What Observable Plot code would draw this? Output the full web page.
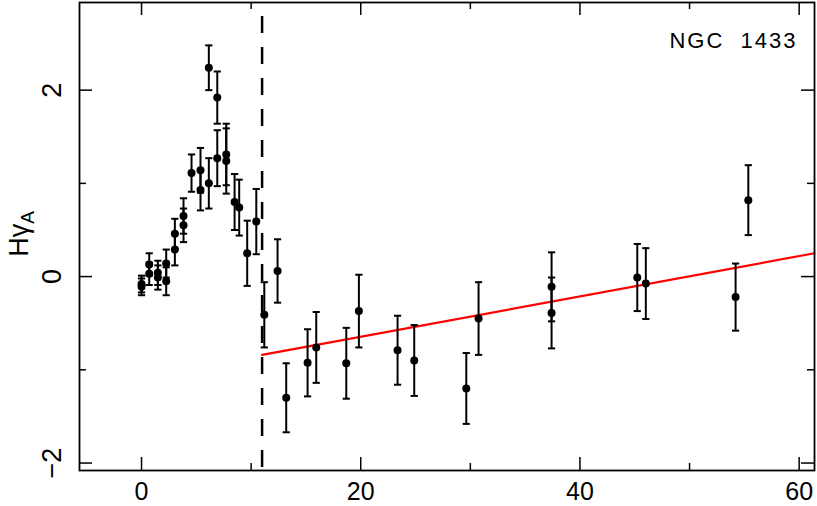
<!DOCTYPE html>
<html>
<head>
<meta charset="utf-8">
<script src="https://cdn.jsdelivr.net/npm/d3@7"></script>
<script src="https://cdn.jsdelivr.net/npm/@observablehq/plot@0.6"></script>
<style>
  html, body { margin: 0; padding: 0; background: #fff; }
  svg { display: block; }
</style>
</head>
<body>
<div id="chart"></div>
<script>
// Radius (x), Hγ_A index (y) and 1σ error (err)
const radius = [0.0, 0.0, 0.70, 0.70, 1.49, 1.49, 2.25, 2.25, 3.04, 3.04, 3.83, 3.83, 4.56, 5.38, 5.38,
  6.14, 6.14, 6.91, 6.91, 7.73, 7.73, 8.49, 8.91, 9.64, 10.47, 11.2, 12.41, 13.2,
  15.15, 15.94, 18.68, 19.83, 23.36, 24.88, 29.63, 30.75, 37.41, 37.41, 45.23, 46.01, 54.2, 55.36];
const hgA = [-0.08, -0.11, 0.13, 0.03, 0.04, -0.01, 0.14, -0.05, 0.46, 0.29, 0.65, 0.55, 1.11, 1.14, 0.93,
  2.24, 1.00, 1.92, 1.27, 1.31, 1.24, 0.80, 0.74, 0.25, 0.59, -0.41, 0.06, -1.30,
  -0.925, -0.76, -0.93, -0.37, -0.79, -0.90, -1.20, -0.45, -0.11, -0.39, -0.01, -0.075, -0.22, 0.82];
const err = [0.09, 0.09, 0.12, 0.12, 0.13, 0.13, 0.15, 0.15, 0.16, 0.17, 0.19, 0.18, 0.20, 0.24, 0.22,
  0.24, 0.27, 0.28, 0.30, 0.33, 0.35, 0.30, 0.30, 0.35, 0.35, 0.35, 0.34, 0.37,
  0.36, 0.38, 0.38, 0.39, 0.37, 0.38, 0.38, 0.39, 0.37, 0.38, 0.36, 0.38, 0.36, 0.375];

// Linear fit beyond the break radius
const fitX = [11, 61.4];
const fitY = [-0.84, 0.25];
const breakRadius = [11];

// Ticks
const xMajor = [0, 20, 40, 60];
const xMinor = [10, 30, 50];
const yMajor = [-2, 0, 2];
const yMinor = [-1, 1];
const yTickLabels = ["−2", "0", "2"];
const galaxy = "NGC  1433";

const data = radius.map((x, i) => ({x, y: hgA[i], e: err[i]}));
const fit = fitX.map((x, i) => ({x, y: fitY[i]}));

const W = 817, H = 506;
const mL = 79, mR = 3, mT = 2, mB = 36;
const innerW = W - mL - mR, innerH = H - mT - mB;
const major = 13, minor = 7;

const capSymbol = {
  draw(ctx, size) { const r = 3.6; ctx.moveTo(-r, 0); ctx.lineTo(r, 0); }
};

const font = "'Liberation Sans', Arial, sans-serif";

const svg = Plot.plot({
  width: W,
  height: H,
  marginLeft: mL,
  marginRight: mR,
  marginTop: mT,
  marginBottom: mB,
  style: {fontFamily: font, background: "#fff"},
  x: {domain: [-5.66, 61.4], axis: null},
  y: {domain: [-2.08, 2.94], axis: null},
  marks: [
    // dashed break line
    Plot.ruleX(breakRadius, {x: d => d, stroke: "black", strokeWidth: 2.5, strokeDasharray: "17,14", strokeDashoffset: 17}),
    // fit
    Plot.line(fit, {x: "x", y: "y", stroke: "#ff0000", strokeWidth: 2.2}),
    // error bars
    Plot.ruleX(data, {x: "x", y1: d => d.y - d.e, y2: d => d.y + d.e, stroke: "black", strokeWidth: 2}),
    Plot.dot(data, {x: "x", y: d => d.y + d.e, symbol: capSymbol, stroke: "black", strokeWidth: 2, fill: "none"}),
    Plot.dot(data, {x: "x", y: d => d.y - d.e, symbol: capSymbol, stroke: "black", strokeWidth: 2, fill: "none"}),
    Plot.dot(data, {x: "x", y: "y", r: 4, fill: "black", stroke: "none"}),
    // inward ticks
    Plot.ruleX(xMajor, {x: d => d, insetTop: innerH - major, stroke: "black", strokeWidth: 1.5}),
    Plot.ruleX(xMajor, {x: d => d, insetBottom: innerH - major, stroke: "black", strokeWidth: 1.5}),
    Plot.ruleX(xMinor, {x: d => d, insetTop: innerH - minor, stroke: "black", strokeWidth: 1.5}),
    Plot.ruleX(xMinor, {x: d => d, insetBottom: innerH - minor, stroke: "black", strokeWidth: 1.5}),
    Plot.ruleY(yMajor, {y: d => d, insetRight: innerW - major, stroke: "black", strokeWidth: 1.5}),
    Plot.ruleY(yMajor, {y: d => d, insetLeft: innerW - major, stroke: "black", strokeWidth: 1.5}),
    Plot.ruleY(yMinor, {y: d => d, insetRight: innerW - minor, stroke: "black", strokeWidth: 1.5}),
    Plot.ruleY(yMinor, {y: d => d, insetLeft: innerW - minor, stroke: "black", strokeWidth: 1.5}),
    // tick labels
    Plot.text(xMajor, {x: d => d, text: d => String(d), frameAnchor: "bottom", lineAnchor: "top", dy: 12, fontSize: 25, fill: "black"}),
    Plot.text(yMajor, {y: d => d, text: (d, i) => yTickLabels[i], frameAnchor: "left", dx: -27, rotate: -90, textAnchor: "middle", lineAnchor: "middle", fontSize: 27, fill: "black"}),
    // galaxy label
    Plot.text([galaxy], {text: d => d, frameAnchor: "top-right", dx: -17, dy: 30, textAnchor: "end", lineAnchor: "top", fontSize: 22, fontFamily: font, fill: "black", fontWeight: 300}),
    Plot.frame({stroke: "black", strokeWidth: 1.8})
  ]
});

// y-axis title with subscript
const yl = d3.select(svg).append("text")
  .attr("transform", "translate(28,234) rotate(-90)")
  .attr("text-anchor", "middle")
  .attr("font-family", font)
  .attr("font-size", 27)
  .attr("fill", "black");
yl.append("tspan").text("Hγ");
yl.append("tspan").attr("font-size", 19).attr("dy", 6).text("A");

// wider letter spacing for the galaxy name, as in the reference
d3.select(svg).selectAll("text").filter(function() { return this.textContent === galaxy; })
  .attr("letter-spacing", "2px");

document.getElementById("chart").appendChild(svg);
</script>
</body>
</html>
